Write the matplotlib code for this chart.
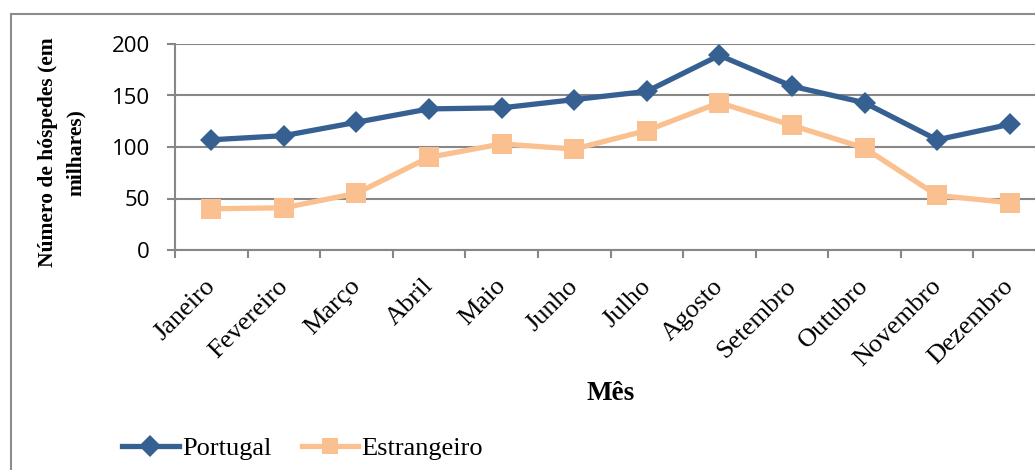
import matplotlib
matplotlib.use("Agg")
import matplotlib.pyplot as plt
from matplotlib.patches import Rectangle
import numpy as np

meses = ["Janeiro", "Fevereiro", "Março", "Abril", "Maio", "Junho",
         "Julho", "Agosto", "Setembro", "Outubro", "Novembro", "Dezembro"]
portugal = [107, 111, 124, 137, 138, 146, 154, 189, 159, 143, 107, 122]
estrangeiro = [40, 41, 55, 90, 103, 98, 116, 143, 121, 99, 53, 46]
y_ticks = [0, 50, 100, 150, 200]

W, H = 1035, 470
fig = plt.figure(figsize=(W / 100, H / 100), dpi=100)
fig.patch.set_facecolor("white")

# chart frame
fig.patches.append(Rectangle((11 / W, -0.05), 1.2, 1 - 14 / H + 0.05,
                             transform=fig.transFigure, fill=False,
                             edgecolor="#8c8c8c", linewidth=1.5))

left, right, top, bottom = 175, 1046, 44, 250
ax = fig.add_axes([left / W, 1 - bottom / H, (right - left) / W, (bottom - top) / H])

x = np.arange(len(meses))
grid_c = "#878787"
serif = "Liberation Serif"

ax.plot(x, portugal, color="#376092", lw=3.8, marker="D", markersize=11,
        markeredgewidth=0, label="Portugal", zorder=4, clip_on=False)
ax.plot(x, estrangeiro, color="#fac090", lw=3.8, marker="s", markersize=14.5,
        markeredgewidth=0, label="Estrangeiro", zorder=3, clip_on=False)

ax.set_xlim(-0.5, len(meses) - 0.5)
ax.set_ylim(0, 200)
ax.set_yticks(y_ticks)
ax.yaxis.grid(True, color=grid_c, lw=1.5)
ax.set_axisbelow(True)

for s in ["top", "right"]:
    ax.spines[s].set_visible(False)
for s in ["left", "bottom"]:
    ax.spines[s].set_color(grid_c)
    ax.spines[s].set_linewidth(1.5)

ax.set_xticks(np.arange(len(meses) + 1) - 0.5)
ax.set_xticklabels([])
ax.set_xticks(x - 0.1, minor=True)
ax.set_xticklabels(meses, minor=True, rotation=45, ha="right", va="top",
                   rotation_mode="anchor", family=serif, fontsize=19)
ax.tick_params(axis="x", which="major", length=6, width=1.5, color=grid_c, direction="out")
ax.tick_params(axis="x", which="minor", length=0, pad=18)
ax.tick_params(axis="y", length=6, width=1.5, color=grid_c, pad=12)
for lbl in ax.get_yticklabels():
    lbl.set_family("Open Sans")
    lbl.set_fontsize(16)

ax.set_ylabel("Número de hóspedes (em\nmilhares)", family=serif,
              fontsize=15.5, fontweight="bold", linespacing=1.5)
ax.yaxis.set_label_coords(-(left - 86) / (right - left), 0.475)

fig.text((left + right) / 2 / W, 1 - 394 / H, "Mês", family=serif,
         fontsize=19.5, fontweight="bold", ha="center", va="center")

leg = fig.legend(loc="center left", bbox_to_anchor=(122 / W, 1 - 448 / H),
                 ncol=2, frameon=False, prop={"family": serif, "size": 19},
                 handlelength=2.15, handletextpad=0.12, columnspacing=1.15,
                 borderaxespad=0, borderpad=0)
for h in leg.legend_handles:
    h.set_markersize(11)

fig.savefig("out.png", dpi=100, facecolor="white")
